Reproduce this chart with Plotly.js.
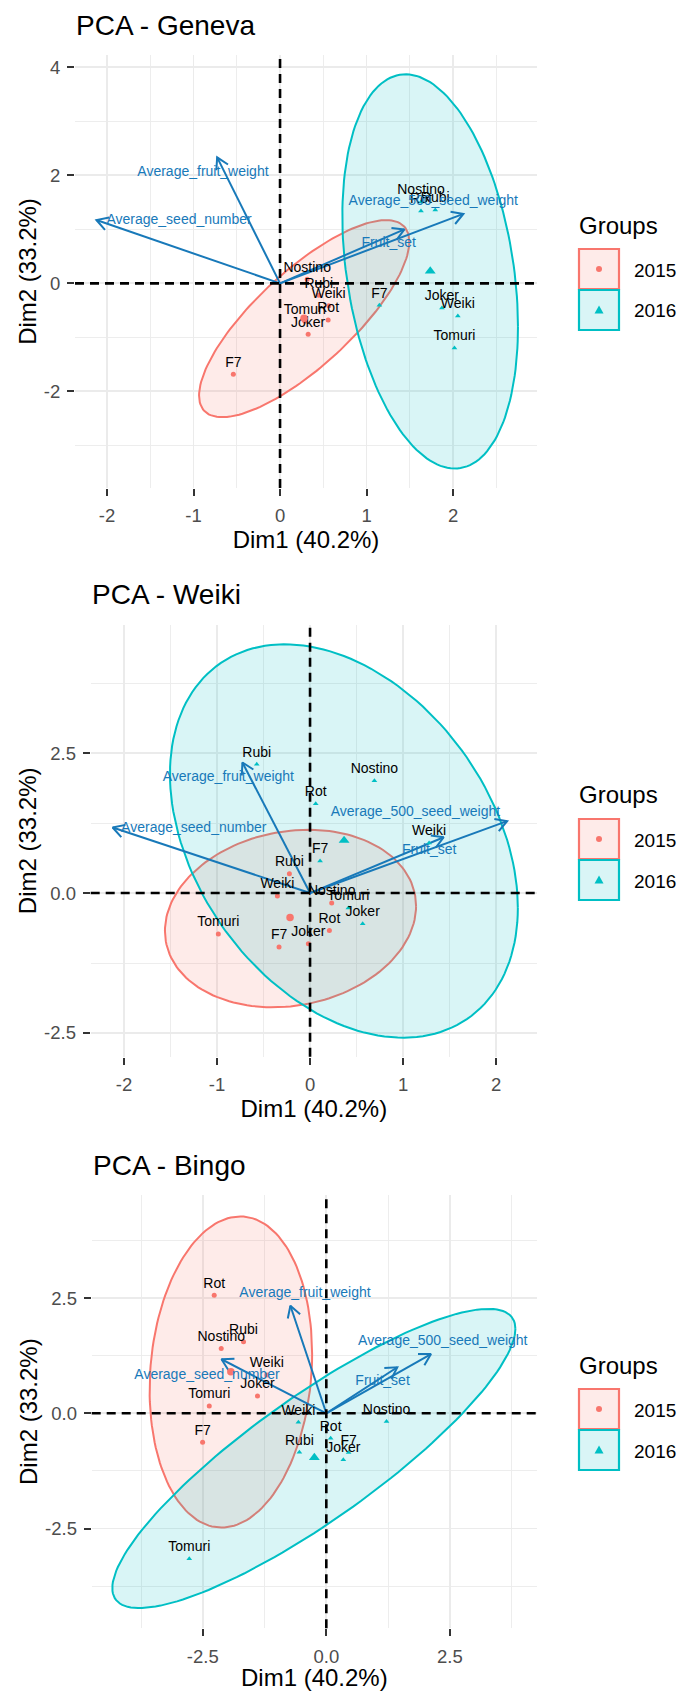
<!DOCTYPE html>
<html>
<head>
<meta charset="utf-8">
<script src="https://cdn.plot.ly/plotly-3.0.1.min.js"></script>
<style>
html,body{margin:0;padding:0;background:#ffffff;}
#chart{width:678px;height:1691px;}
</style>
</head>
<body>
<div id="chart"></div>
<script>
// ---------------- DATA ----------------
const cultivars = ["F7", "Joker", "Nostino", "Rot", "Rubi", "Tomuri", "Weiki"];
const groupNames = ["2015", "2016"];
const panelTitles = ["PCA - Geneva", "PCA - Weiki", "PCA - Bingo"];
const xAxisTitle = "Dim1 (40.2%)";
const yAxisTitle = "Dim2 (33.2%)";
const legendTitle = "Groups";

// individuals (Dim1, Dim2), order as in cultivars
const geneva2015X = [-0.54, 0.325, 0.314, 0.556, 0.448, 0.286, 0.563];
const geneva2015Y = [-1.685, -0.944, 0.074, -0.68, -0.222, -0.704, -0.414];
const geneva2016X = [1.148, 1.871, 1.629, 1.629, 1.794, 2.016, 2.055];
const geneva2016Y = [-0.408, -0.457, 1.506, 1.339, 1.357, -1.198, -0.606];

const weiki2015X = [-0.333, -0.018, 0.233, 0.208, -0.222, -0.986, -0.351];
const weiki2015Y = [-0.964, -0.905, -0.179, -0.667, 0.345, -0.732, -0.054];
const weiki2016X = [0.108, 0.566, 0.692, 0.061, -0.573, 0.412, 1.28];
const weiki2016Y = [0.571, -0.548, 2.005, 1.595, 2.30, -0.268, 0.893];

const bingo2015X = [-2.504, -1.393, -2.127, -2.269, -1.676, -2.369, -1.205];
const bingo2015Y = [-0.628, 0.375, 1.407, 2.561, 1.551, 0.159, 0.83];
const bingo2016X = [0.452, 0.344, 1.219, 0.088, -0.545, -2.774, -0.565];
const bingo2016Y = [-0.853, -1.01, -0.18, -0.541, -0.845, -3.154, -0.195];

// group mean points [2015, 2016]
const genevaMeanX = [0.277, 1.736];
const genevaMeanY = [-0.645, 0.228];
const weikiMeanX = [-0.215, 0.366];
const weikiMeanY = [-0.435, 0.94];
const bingoMeanX = [-1.932, -0.242];
const bingoMeanY = [0.902, -0.96];

// concentration ellipses: [centre Dim1, centre Dim2, half-width, half-height, correlation]
const genevaEllipse2015 = [0.279, -0.654, 1.215, 1.825, 0.78];
const genevaEllipse2016 = [1.735, 0.22, 1.015, 3.65, -0.28];
const weikiEllipse2015 = [-0.21, -0.455, 1.35, 1.586, 0.14];
const weikiEllipse2016 = [0.364, 0.93, 1.87, 3.515, -0.34];
const bingoEllipse2015 = [-1.932, 0.896, 1.645, 3.375, 0.115];
const bingoEllipse2016 = [-0.252, -0.98, 4.08, 3.246, 0.866];

// variables (arrow tips)
const variableNames = ["Average_fruit_weight", "Average_seed_number", "Average_500_seed_weight", "Fruit_set"];
const variableX = [-0.727, -2.122, 2.119, 1.437];
const variableY = [2.333, 1.172, 1.285, 0.998];

// where each variable label sits, per panel
const genevaVarLabelX = [-0.891, -1.167, 1.771, 1.255];
const genevaVarLabelY = [2.055, 1.172, 1.524, 0.741];
const weikiVarLabelX = [-0.878, -1.25, 1.133, 1.281];
const weikiVarLabelY = [2.07, 1.16, 1.446, 0.761];
const bingoVarLabelX = [-0.431, -2.416, 2.358, 1.139];
const bingoVarLabelY = [2.603, 0.829, 1.55, 0.684];

// tick labels
const genevaXTicks = [-2, -1, 0, 1, 2];
const genevaXTickText = ["-2", "-1", "0", "1", "2"];
const genevaYTicks = [-2, 0, 2, 4];
const genevaYTickText = ["-2", "0", "2", "4"];
const weikiXTicks = [-2, -1, 0, 1, 2];
const weikiXTickText = ["-2", "-1", "0", "1", "2"];
const weikiYTicks = [-2.5, 0, 2.5];
const weikiYTickText = ["-2.5", "0.0", "2.5"];
const bingoXTicks = [-2.5, 0, 2.5];
const bingoXTickText = ["-2.5", "0.0", "2.5"];
const bingoYTicks = [-2.5, 0, 2.5];
const bingoYTickText = ["-2.5", "0.0", "2.5"];

// ---------------- STYLE / LAYOUT ----------------
const W = 678, H = 1691;
const FONT = "Liberation Sans, Arial, Helvetica, sans-serif";
const COL = ["#F8766D", "#00BFC4"];
const FILL = ["rgba(248,118,109,0.15)", "rgba(0,191,196,0.15)"];
const VARCOL = "#1879B9";

const panels = [
  { title: panelTitles[0],
    gx: [geneva2015X, geneva2016X], gy: [geneva2015Y, geneva2016Y],
    mx: genevaMeanX, my: genevaMeanY, ell: [genevaEllipse2015, genevaEllipse2016],
    lx: genevaVarLabelX, ly: genevaVarLabelY,
    xt: genevaXTicks, xtt: genevaXTickText, yt: genevaYTicks, ytt: genevaYTickText,
    box: { left: 75, right: 537, top: 55, bottom: 488, xRange: [-2.37, 2.97], yRange: [-3.79, 4.228], xMinor: 0.5, yMinor: 1 } },
  { title: panelTitles[1],
    gx: [weiki2015X, weiki2016X], gy: [weiki2015Y, weiki2016Y],
    mx: weikiMeanX, my: weikiMeanY, ell: [weikiEllipse2015, weikiEllipse2016],
    lx: weikiVarLabelX, ly: weikiVarLabelY,
    xt: weikiXTicks, xtt: weikiXTickText, yt: weikiYTicks, ytt: weikiYTickText,
    box: { left: 90.7, right: 537, top: 625, bottom: 1056.7, xRange: [-2.358, 2.44], yRange: [-2.924, 4.79], xMinor: 0.5, yMinor: 1.25 } },
  { title: panelTitles[2],
    gx: [bingo2015X, bingo2016X], gy: [bingo2015Y, bingo2016Y],
    mx: bingoMeanX, my: bingoMeanY, ell: [bingoEllipse2015, bingoEllipse2016],
    lx: bingoVarLabelX, ly: bingoVarLabelY,
    xt: bingoXTicks, xtt: bingoXTickText, yt: bingoYTicks, ytt: bingoYTickText,
    box: { left: 91.7, right: 537, top: 1195, bottom: 1628.3, xRange: [-4.749, 4.265], yRange: [-4.664, 4.735], xMinor: 1.25, yMinor: 1.25 } }
];

function ellipseOutline(e) {
  const cx = e[0], cy = e[1], hx = e[2], hy = e[3], r = e[4];
  const s = Math.sqrt(1 - r * r);
  const xs = [], ys = [];
  const N = 160;
  for (let i = 0; i <= N; i++) {
    const t = 2 * Math.PI * i / N;
    xs.push(cx + hx * Math.cos(t));
    ys.push(cy + hy * (r * Math.cos(t) + s * Math.sin(t)));
  }
  return [xs, ys];
}

const px = v => v / W;
const py = v => 1 - v / H;

const traces = [];
const shapes = [];
const annotations = [];
const layout = {
  width: W, height: H, autosize: false,
  margin: { l: 0, r: 0, t: 0, b: 0, pad: 0 },
  paper_bgcolor: "#ffffff", plot_bgcolor: "#ffffff",
  showlegend: false,
  font: { family: FONT, color: "#000000" },
  shapes: shapes, annotations: annotations
};

panels.forEach((p, i) => {
  const n = i === 0 ? "" : String(i + 1);
  const xa = "x" + n, ya = "y" + n;
  const b = p.box;

  const common = {
    showline: false, zeroline: false, showgrid: true,
    gridcolor: "#EBEBEB", gridwidth: 1.8,
    ticks: "outside", ticklen: 7, tickwidth: 2, tickcolor: "#333333",
    tickfont: { family: FONT, size: 18.5, color: "#4D4D4D" },
    fixedrange: true, automargin: false, tickmode: "array"
  };
  layout["xaxis" + n] = Object.assign({}, common, {
    domain: [px(b.left), px(b.right)], range: b.xRange, anchor: ya,
    tickvals: p.xt, ticktext: p.xtt, ticklabelstandoff: 4,
    minor: { showgrid: true, gridcolor: "#EBEBEB", gridwidth: 0.9, ticks: "", tickmode: "linear", tick0: 0, dtick: b.xMinor },
    title: { text: xAxisTitle, font: { family: FONT, size: 24, color: "#000000" }, standoff: 5 }
  });
  layout["yaxis" + n] = Object.assign({}, common, {
    domain: [py(b.bottom), py(b.top)], range: b.yRange, anchor: xa,
    tickvals: p.yt, ticktext: p.ytt, ticklabelstandoff: 3,
    minor: { showgrid: true, gridcolor: "#EBEBEB", gridwidth: 0.9, ticks: "", tickmode: "linear", tick0: 0, dtick: b.yMinor },
    title: { text: yAxisTitle, font: { family: FONT, size: 24, color: "#000000" }, standoff: 0 }
  });

  // ellipses
  [0, 1].forEach(g => {
    const o = ellipseOutline(p.ell[g]);
    traces.push({ type: "scatter", mode: "lines", x: o[0], y: o[1], xaxis: xa, yaxis: ya,
      fill: "toself", fillcolor: FILL[g], line: { color: COL[g], width: 2 }, hoverinfo: "skip", showlegend: false });
  });

  // variable arrows with open heads
  const sx = (b.right - b.left) / (b.xRange[1] - b.xRange[0]);
  const sy = (b.bottom - b.top) / (b.yRange[1] - b.yRange[0]);
  const ax = [], ay = [];
  variableX.forEach((tx, k) => {
    const ty = variableY[k];
    const vx = tx * sx, vy = ty * sy;
    const L = Math.hypot(vx, vy);
    const ux = vx / L, uy = vy / L;
    ax.push(0, tx, null); ay.push(0, ty, null);
    const HL = 13, A = Math.PI / 6;
    const w = [A, -A].map(a => {
      const c = Math.cos(a), s = Math.sin(a);
      const bx = -ux, by = -uy;
      const rx = bx * c - by * s, ry = bx * s + by * c;
      return [tx + HL * rx / sx, ty + HL * ry / sy];
    });
    ax.push(w[0][0], tx, w[1][0], null); ay.push(w[0][1], ty, w[1][1], null);
  });
  traces.push({ type: "scatter", mode: "lines", x: ax, y: ay, xaxis: xa, yaxis: ya,
    line: { color: VARCOL, width: 2 }, hoverinfo: "skip", showlegend: false });

  // individuals
  [0, 1].forEach(g => {
    traces.push({ type: "scatter", mode: "markers+text", x: p.gx[g], y: p.gy[g], xaxis: xa, yaxis: ya,
      text: cultivars, textposition: "top center",
      textfont: { family: FONT, size: 14, color: "#000000" },
      marker: { color: COL[g], size: 5, symbol: g === 0 ? "circle" : "triangle-up", line: { width: 0 } },
      name: groupNames[g], hoverinfo: "skip", showlegend: false, cliponaxis: false });
    traces.push({ type: "scatter", mode: "markers", x: [p.mx[g]], y: [p.my[g]], xaxis: xa, yaxis: ya,
      marker: { color: COL[g], size: g === 0 ? 7.5 : 9.5, symbol: g === 0 ? "circle" : "triangle-up", line: { width: 0 } },
      hoverinfo: "skip", showlegend: false });
  });

  // variable labels
  traces.push({ type: "scatter", mode: "text", x: p.lx, y: p.ly, xaxis: xa, yaxis: ya,
    text: variableNames, textposition: "middle center",
    textfont: { family: FONT, size: 14, color: VARCOL }, hoverinfo: "skip", showlegend: false, cliponaxis: false });

  // dashed reference lines
  shapes.push({ type: "line", xref: xa + " domain", yref: ya, x0: 0, x1: 1, y0: 0, y1: 0,
    line: { color: "#000000", width: 2.6, dash: "9px,6px" }, layer: "above" });
  shapes.push({ type: "line", xref: xa, yref: ya + " domain", x0: 0, x1: 0, y0: 0, y1: 1,
    line: { color: "#000000", width: 2.6, dash: "9px,6px" }, layer: "above" });

  // panel title
  annotations.push({ xref: "paper", yref: "paper", x: px(b.left - 1), y: py(b.top - 30),
    xanchor: "left", yanchor: "middle", showarrow: false, text: p.title,
    font: { family: FONT, size: 28, color: "#000000" } });

  // legend (drawn by hand, ggplot style keys)
  const dy = b.top - 55;
  annotations.push({ xref: "paper", yref: "paper", x: px(577), y: py(225 + dy),
    xanchor: "left", yanchor: "middle", showarrow: false, text: legendTitle,
    font: { family: FONT, size: 24, color: "#000000" } });
  [0, 1].forEach(g => {
    const y0 = 249 + 41 * g + dy, y1 = y0 + 40;
    const x0 = 579, x1 = 619;
    const cx = (x0 + x1) / 2, cy = (y0 + y1) / 2;
    shapes.push({ type: "rect", xref: "paper", yref: "paper", x0: px(x0), x1: px(x1), y0: py(y1), y1: py(y0),
      fillcolor: FILL[g], line: { color: COL[g], width: 2.2 }, layer: "above" });
    if (g === 0) {
      shapes.push({ type: "circle", xref: "paper", yref: "paper", x0: px(cx - 3), x1: px(cx + 3), y0: py(cy + 3), y1: py(cy - 3),
        fillcolor: COL[g], line: { width: 0 }, layer: "above" });
    } else {
      const path = "M" + px(cx - 4.5) + "," + py(cy + 3.5) + " L" + px(cx + 4.5) + "," + py(cy + 3.5) +
        " L" + px(cx) + "," + py(cy - 4.5) + " Z";
      shapes.push({ type: "path", xref: "paper", yref: "paper", path: path,
        fillcolor: COL[g], line: { width: 0 }, layer: "above" });
    }
    annotations.push({ xref: "paper", yref: "paper", x: px(632), y: py(cy + 1),
      xanchor: "left", yanchor: "middle", showarrow: false, text: groupNames[g],
      font: { family: FONT, size: 19, color: "#000000" } });
  });
});

Plotly.newPlot("chart", traces, layout, { staticPlot: true, displayModeBar: false });
</script>
</body>
</html>
